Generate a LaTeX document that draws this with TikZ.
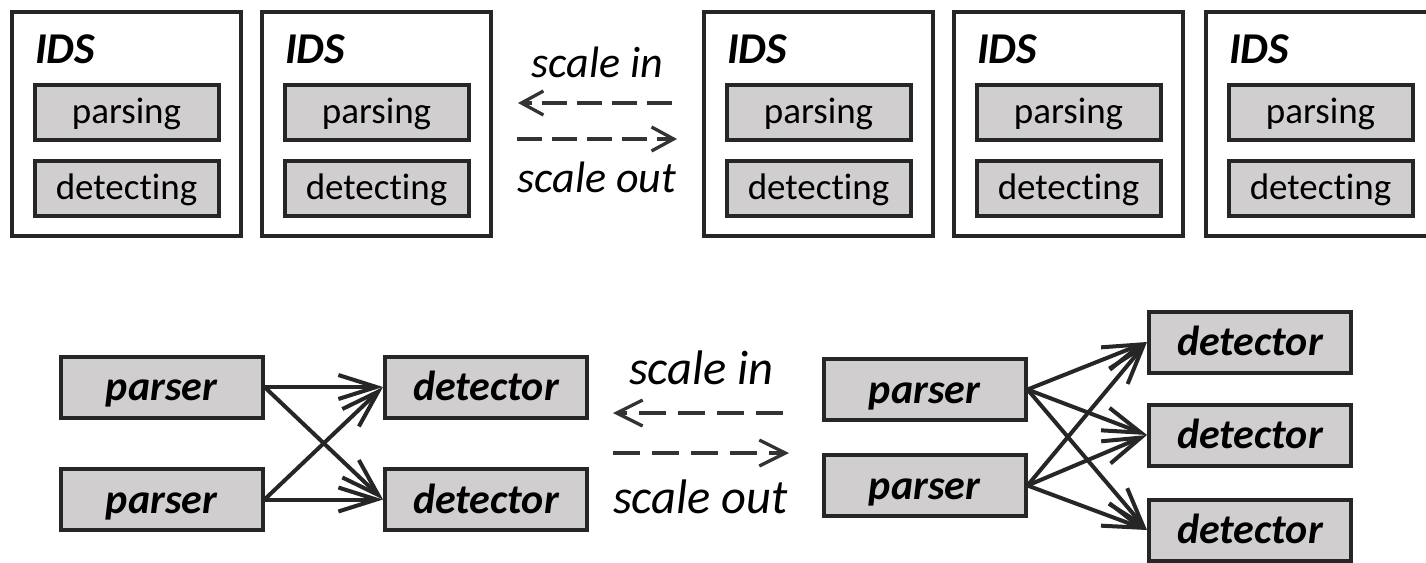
\documentclass[tikz,border=0pt]{standalone}
\usepackage{fontspec}
\setmainfont{Carlito}[Ligatures={NoCommon}, RawFeature={-liga;-dlig}]
\usetikzlibrary{arrows.meta}
\definecolor{edge}{HTML}{262626}
\definecolor{boxfill}{HTML}{D0CECE}
\definecolor{dashgray}{HTML}{333333}

\tikzset{
  idsbox/.style={draw=edge, line width=4pt, minimum width=229pt, minimum height=224pt, inner sep=0pt},
  stagebox/.style={draw=edge, fill=boxfill, line width=4pt, minimum width=184pt, minimum height=55pt,
    inner sep=0pt, font=\fontsize{37}{40}\selectfont, text height=22pt, text depth=0pt},
  unitbox/.style={draw=edge, fill=boxfill, line width=4pt, minimum width=202pt, minimum height=61pt,
    inner sep=0pt, font=\fontsize{42}{46}\selectfont\bfseries\itshape, text height=27pt, text depth=0pt},
  idslabel/.style={anchor=base west, inner sep=0pt, font=\fontsize{44}{48}\selectfont\bfseries\itshape},
  scaletop/.style={anchor=base, inner sep=0pt, font=\fontsize{44}{48}\selectfont\itshape},
  scalebottom/.style={anchor=base, inner sep=0pt, font=\fontsize{48.5}{52}\selectfont\itshape},
  flow/.style={draw=edge, line width=4pt, -{Straight Barb[length=38pt,width=24pt]}},
  scaletoparrow/.style={draw=dashgray, line width=3.3pt, dash pattern=on 25pt off 10pt,
    -{Straight Barb[length=22pt,width=24pt]}},
  scalebottomarrow/.style={draw=dashgray, line width=3.3pt, dash pattern=on 27pt off 12pt,
    -{Straight Barb[length=26pt,width=26pt]}},
}

\begin{document}
\begin{tikzpicture}[x=1pt, y=-1pt]
  \useasboundingbox (0,0) rectangle (1426,562);
  \clip (0,0) rectangle (1426,562);
  \fill[white] (0,0) rectangle (1426,562);

  % monolithic IDS instances, each doing parsing and detecting
  \foreach \i/\x in {1/126.5, 2/376.5, 3/818.5, 4/1068.5, 5/1320.5} {
    \node[idsbox] (ids\i) at (\x,124) {};
    \node[idslabel] (idsname\i) at (\x-91.5,63) {IDS};
    \node[stagebox] (parsing\i) at (\x,112) {parsing};
    \node[stagebox] (detecting\i) at (\x,188) {detect\kern0pt ing};
  }

  % scaling the monolithic instances
  \node[scaletop] (inTop) at (597.5,77) {scale in};
  \node[scaletop] (outTop) at (597,192) {scale out};
  \coordinate (inTopA) at (672,103);
  \coordinate (inTopB) at (518,103);
  \coordinate (outTopA) at (517,139);
  \coordinate (outTopB) at (677,139);
  \draw[scaletoparrow] (inTopA) -- (inTopB);
  \draw[scaletoparrow] (outTopA) -- (outTopB);

  % split design: two parsers feeding two detectors
  \node[unitbox] (p1) at (161.5,387) {parser};
  \node[unitbox] (p2) at (161.5,499.5) {parser};
  \node[unitbox] (d1) at (486,387) {detector};
  \node[unitbox] (d2) at (486,499.5) {detector};
  \foreach \s in {p1,p2} \foreach \t in {d1,d2} \draw[flow] (\s.east) -- (\t.west);

  % scaling the split design
  \node[scalebottom] (inBottom) at (701.5,384) {scale in};
  \node[scalebottom] (outBottom) at (700.5,513) {scale out};
  \coordinate (inBottomA) at (783,413);
  \coordinate (inBottomB) at (613,413);
  \coordinate (outBottomA) at (613,453);
  \coordinate (outBottomB) at (789,453);
  \draw[scalebottomarrow] (inBottomA) -- (inBottomB);
  \draw[scalebottomarrow] (outBottomA) -- (outBottomB);

  % split design: two parsers feeding three detectors
  \node[unitbox] (p3) at (924.5,389.5) {parser};
  \node[unitbox] (p4) at (924.5,485.5) {parser};
  \node[unitbox] (d3) at (1250,342) {detector};
  \node[unitbox] (d4) at (1250,435) {detector};
  \node[unitbox] (d5) at (1250,530) {detector};
  \foreach \s in {p3,p4} \foreach \t in {d3,d4,d5} \draw[flow] (\s.east) -- (\t.west);
\end{tikzpicture}
\end{document}
